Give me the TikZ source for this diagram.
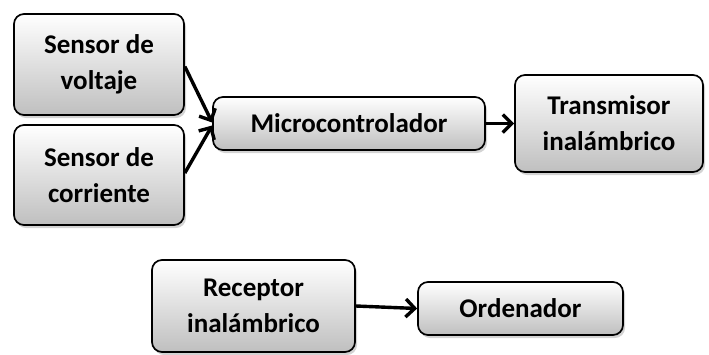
\documentclass[tikz,border=0pt]{standalone}
\usepackage{fontspec}
\setmainfont{Carlito}
\usetikzlibrary{shadows,arrows.meta,calc}
\tikzset{
  blk/.style={draw=black, line width=1.7pt, rounded corners=10pt,
    top color=white, bottom color=black!25,
    drop shadow={opacity=0.35, shadow xshift=2pt, shadow yshift=-3pt},
    inner sep=0pt, align=center,
    font=\fontsize{27}{36}\selectfont\bfseries},
  arr/.style={line width=3.4pt, -{Straight Barb[length=9pt,width=18pt,line width=3.4pt]}}
}
\begin{document}
\begin{tikzpicture}[x=1pt,y=-1pt]
  \useasboundingbox (0,0) rectangle (709,354);
  % input sensors
  \node[blk, minimum width=170pt, minimum height=101pt] (volt) at (99,64.5) {Sensor de\\voltaje};
  \node[blk, minimum width=170pt, minimum height=100pt] (corr) at (99,175) {Sensor de\\corriente};
  % processing and transmission
  \node[blk, minimum width=272pt, minimum height=53pt] (micro) at (349,123.5) {Microcontrolador};
  \node[blk, minimum width=188pt, minimum height=97pt] (trans) at (609,123.5) {Transmisor\\inalámbrico};
  % receiving side
  \node[blk, minimum width=203pt, minimum height=92pt] (recep) at (253.5,306) {Receptor\\inalámbrico};
  \node[blk, minimum width=205pt, minimum height=53pt] (orden) at (520.5,308.5) {Ordenador};
  % connectors
  \draw[arr] ($(volt.east)+(0,2)$) -- ($(micro.west)+(0,-1)$);
  \draw[arr] ($(corr.east)+(0,-2)$) -- ($(micro.west)+(0,2)$);
  \draw[arr] (micro.east) -- (trans.west);
  \draw[arr] (recep.east) -- (orden.west);
\end{tikzpicture}
\end{document}
